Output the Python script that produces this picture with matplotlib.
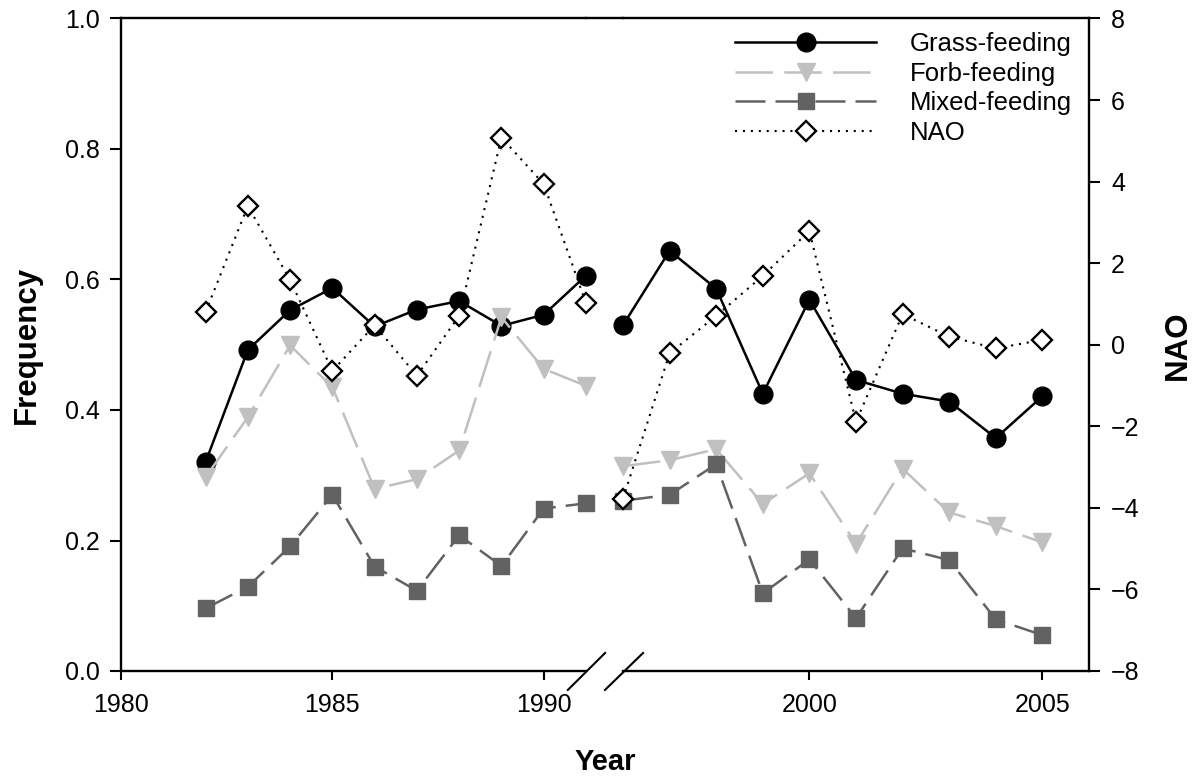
import numpy as np
import matplotlib
matplotlib.use("Agg")
import matplotlib.pyplot as plt
from matplotlib.lines import Line2D

plt.rcParams['font.family'] = ['Liberation Sans', 'DejaVu Sans']

# === DATA ===
years_a = [1982, 1983, 1984, 1985, 1986, 1987, 1988, 1989, 1990, 1991]
years_b = [1996, 1997, 1998, 1999, 2000, 2001, 2002, 2003, 2004, 2005]

grass_a = [0.320, 0.492, 0.553, 0.587, 0.528, 0.554, 0.567, 0.529, 0.546, 0.606]
grass_b = [0.530, 0.644, 0.586, 0.425, 0.569, 0.446, 0.425, 0.413, 0.357, 0.421]

forb_a = [0.297, 0.389, 0.499, 0.435, 0.279, 0.294, 0.338, 0.542, 0.463, 0.437]
forb_b = [0.314, 0.323, 0.340, 0.256, 0.303, 0.195, 0.310, 0.243, 0.222, 0.197]

mixed_a = [0.096, 0.129, 0.191, 0.270, 0.160, 0.123, 0.208, 0.161, 0.249, 0.257]
mixed_b = [0.261, 0.270, 0.317, 0.119, 0.171, 0.081, 0.188, 0.170, 0.079, 0.055]

nao_a = [0.80, 3.40, 1.59, -0.64, 0.48, -0.76, 0.71, 5.08, 3.94, 1.02]
nao_b = [-3.78, -0.21, 0.71, 1.69, 2.79, -1.89, 0.75, 0.20, -0.09, 0.12]

labels = ['Grass-feeding', 'Forb-feeding', 'Mixed-feeding', 'NAO']

# === STYLES ===
FS = 18
LFS = 18.5
grass_kw = dict(color='black', lw=1.8, marker='o', ms=13.5, zorder=2)
forb_kw = dict(color='#c0c0c0', lw=1.8, dashes=(15, 4.5), marker='v', ms=12.5, zorder=3)
mixed_kw = dict(color='#626262', lw=1.8, dashes=(12, 4), marker='s', ms=11, zorder=4)
nao_kw = dict(color='black', lw=1.5, linestyle=(0, (1, 2.8)), marker='D', ms=10,
              mfc='white', mec='black', mew=1.7, zorder=5)

W, H = 1194, 781
fig = plt.figure(figsize=(W / 100, H / 100), dpi=100)

bot = (H - 671) / H
hgt = 652.5 / H
ax1 = fig.add_axes([121 / W, bot, 465 / W, hgt])
ax2 = fig.add_axes([623 / W, bot, 466 / W, hgt])
ax1n = ax1.twinx()
ax2n = ax2.twinx()

for ax, yrs, g, f, m in [(ax1, years_a, grass_a, forb_a, mixed_a),
                         (ax2, years_b, grass_b, forb_b, mixed_b)]:
    ax.plot(yrs, g, clip_on=False, **grass_kw)
    ax.plot(yrs, f, clip_on=False, **forb_kw)
    ax.plot(yrs, m, clip_on=False, **mixed_kw)
    ax.set_ylim(0, 1)
    ax.patch.set_visible(False)

ax1n.plot(years_a, nao_a, clip_on=False, **nao_kw)
ax2n.plot(years_b, nao_b, clip_on=False, **nao_kw)
for ax in (ax1n, ax2n):
    ax.set_ylim(-8, 8)

ax1.set_xlim(1980, 1991)
ax2.set_xlim(1996, 2006)
ax1n.set_xlim(1980, 1991)
ax2n.set_xlim(1996, 2006)

# spines
SW = 1.7
for ax in (ax1, ax2, ax1n, ax2n):
    for s in ax.spines.values():
        s.set_linewidth(SW)
        s.set_visible(False)
ax1.spines['left'].set_visible(True)
ax1.spines['bottom'].set_visible(True)
ax1.spines['top'].set_visible(True)
ax2.spines['bottom'].set_visible(True)
ax2.spines['top'].set_visible(True)
ax2n.spines['right'].set_visible(True)

# ticks
tick_kw = dict(direction='out', width=1.5, labelsize=FS)
ax1.set_xticks([1980, 1985, 1990])
ax2.set_xticks([2000, 2005])
ax1.set_yticks(np.arange(0, 1.01, 0.2))
ax1.set_yticklabels([f"{v:.1f}" for v in np.arange(0, 1.01, 0.2)])
ax1.tick_params(axis='x', length=6.5, pad=9, **tick_kw)
ax2.tick_params(axis='x', length=6.5, pad=9, **tick_kw)
ax1.tick_params(axis='y', length=8, pad=7, **tick_kw)
ax2.tick_params(axis='y', left=False, labelleft=False)
ax1n.tick_params(axis='y', right=False, labelright=False)
ax2n.set_yticks(np.arange(-8, 9, 2))
ax2n.tick_params(axis='y', length=8, pad=8, **tick_kw)
for ax in (ax1n, ax2n):
    ax.tick_params(axis='x', bottom=False, labelbottom=False, top=False)

# top line across the gap
ytop = bot + hgt
fig.add_artist(Line2D([586 / W, 623 / W], [ytop, ytop], color='black', lw=SW,
                      transform=fig.transFigure))

# break marks
ax1.plot([0.961, 1.041], [-0.029, 0.0276], color='black', lw=1.5, clip_on=False,
         transform=ax1.transAxes)
ax2.plot([-0.0386, 0.043], [-0.029, 0.0276], color='black', lw=1.5, clip_on=False,
         transform=ax2.transAxes)

# axis labels
fig.text(605 / W, 1 - 762 / H, 'Year', ha='center', va='center', fontsize=21, fontweight='bold')
fig.text(27 / W, 1 - 345 / H, 'Frequency', ha='center', va='center', rotation=90,
         fontsize=22.5, fontweight='bold')
fig.text(1178 / W, 1 - 345 / H, 'NAO', ha='center', va='center', rotation=90,
         fontsize=22.5, fontweight='bold')

# legend
handles = [Line2D([], [], **grass_kw), Line2D([], [], **forb_kw),
           Line2D([], [], **mixed_kw), Line2D([], [], **nao_kw)]
fig.legend(handles, labels, loc='upper left', bbox_to_anchor=(735 / W, 1 - 32 / H),
           frameon=False, fontsize=LFS, handlelength=5.5, handletextpad=1.3,
           labelspacing=0.22, borderpad=0, borderaxespad=0, numpoints=1)

fig.savefig('out.png', dpi=100)
